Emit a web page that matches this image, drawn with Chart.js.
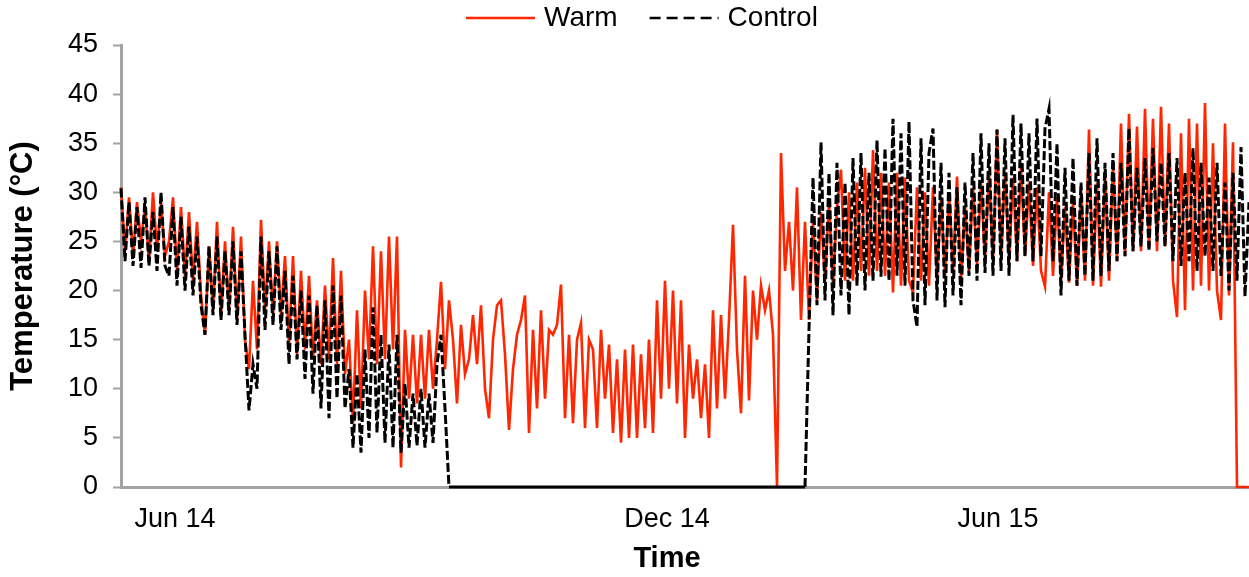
<!DOCTYPE html>
<html>
<head>
<meta charset="utf-8">
<title>Temperature - Warm x Control</title>
<script src="https://cdn.jsdelivr.net/npm/chart.js@4.4.1/dist/chart.umd.min.js"></script>
<style>
  html, body { margin: 0; padding: 0; background: #fff; }
  #grafico { display: block; }
</style>
</head>
<body>
<canvas id="grafico" width="1249" height="577"></canvas>
<script>
// one reading per sample index along the time axis (0 .. 282)
const sampleCount = 283;
const monthTickAt = [13.5, 136.5, 219.25];
const monthLabels = ["Jun 14", "Dec 14", "Jun 15"];
const yMax = 45;
const yStep = 5;

// Warm plot, °C
const warmTemp = [
  30.5, 24, 29.5, 23.5, 29, 25, 28.5, 23, 30, 24, 29, 23.5,
  25, 29.5, 22, 28.5, 21.5, 28, 21, 27, 19.5,
  15.5, 24.5, 18, 27, 17.5, 25, 18, 26.5, 17, 25.5, 15,
  12, 21, 14, 27.2, 18, 25, 17.5, 25, 17.5, 23.5,
  14.5, 23.5, 13.5, 22, 14, 21.5, 13, 19, 12.5, 20.5, 13, 23.3, 12.5, 22, 11.5,
  15, 6.5, 18, 8, 20,
  13, 24.5, 12.5, 24, 13, 25.5, 14, 25.5,
  2, 16, 9, 15.5, 8.5, 15.5, 9, 16, 10, 15, 20.9, 12,
  19, 15, 8.5, 16.5, 11.5, 13, 17.5, 12.5, 18.5, 10, 7, 15, 18.5, 19, 13.5,
  5.8, 12, 15.5, 17, 19.5, 5.5, 16, 8, 18, 9, 16, 15.5, 16.5, 20.6, 7,
  15.5, 6.5, 15, 16.7, 6, 15, 14, 6, 16, 9, 14.5, 5.5, 13, 4.5, 14,
  5, 14.5, 5, 13.5, 6, 15, 5.5,
  19, 9, 21, 10, 20, 8.5, 19, 5,
  14.5, 9, 13, 7, 12.5, 5,
  18, 8, 17.5, 9, 17, 26.7,
  14, 7.5, 21.5, 8.8, 20, 15, 20.5, 18, 20, 15.5,
  0, 34, 22, 27, 20, 30.5, 17, 27,
  17, 27, 19, 28, 21, 29, 20.5, 28.5, 32.3, 21, 30,
  21, 31, 22, 32.5, 21.5, 34.3, 22, 32, 21.5,
  31, 19.8, 32, 20.5, 31.5, 21, 19.8, 30.5, 21, 30, 20.5,
  30.5, 21, 29.5, 21.5, 30, 22, 31.6, 21, 28.5,
  22, 30.5, 22.5, 31, 23, 32, 23, 36.4, 23.5, 32, 23, 31.5,
  23, 32.5, 23.5, 31, 22.5, 30.5, 22, 20.4, 30, 21.5, 29.5,
  21, 28.5, 20.8, 29, 20.5, 30, 21, 36.4, 20.5, 31, 20.4, 32, 21, 33,
  23, 37, 23.5, 38, 24, 36.7, 24, 38.5, 24.4, 37.5, 24, 38.7, 24.5, 37,
  21, 17.3, 36, 18, 37.5, 20, 37, 20.5, 39.1, 20,
  35, 20, 17, 37, 19.5, 35.1, 0, 0, 0, 0
];

// Control plot, °C (logger offline between the two runs, recorded as 0)
const controlEarly = [
  30.4, 23, 29, 22.5, 28.5, 22.3, 29.5, 22.5, 28, 22, 30, 22.5,
  21.5, 28.5, 20.5, 27.5, 20, 26.5, 19.5, 25.5, 18.5,
  15.5, 24.5, 17.5, 25.5, 17, 24, 17.5, 25, 16.5, 24, 15.5,
  7.8, 12.5, 10, 25.5, 16, 24, 16.5, 24.5, 16, 22,
  12.5, 21.5, 13, 20, 11, 19.5, 9.5, 18.5, 8, 19, 7, 20.5, 9, 19.5, 8,
  12, 4, 11.5, 3.5, 14,
  5, 18.3, 5.5, 15.5, 4.5, 14.5, 4, 15.5,
  3.5, 10.5, 4, 9.5, 4.2, 10, 4, 9.5, 4.5, 12.5, 15.5, 8
];
const controlGapStart = 82;
const controlGapEnd = 171;
const controlLateStart = 172;
const controlLate = [
  16, 31.5, 18.5, 35.1, 19, 32, 17.5, 33, 19.5, 31, 17.5,
  33.5, 20.5, 34, 20, 32, 21, 35.3, 21.4, 34.5,
  21, 37.5, 21.5, 36, 20.5, 37.2, 19, 16.3, 35.5, 18.5, 34,
  36.5, 19, 33, 18.3, 32, 19.5, 30.5, 18.5, 31,
  21.5, 34, 21, 36, 21.8, 35, 21.5, 36.4, 22, 35.5, 21.5, 37.9,
  23, 37, 23.5, 36, 23, 37.5, 23.5, 36.5, 38.5, 23, 35,
  19.5, 32.5, 21, 33.5, 20.5, 31, 21.5, 34, 21, 35.5, 21.5, 33, 22, 34,
  23, 33, 23.5, 36.5, 24, 32.5, 24.5, 33.5, 24, 34.5, 25, 33, 24.5, 34,
  23, 33.5, 22.5, 32, 23, 34.5, 22, 33, 23.5, 31.5,
  22, 33, 21.5, 31, 20, 32, 21, 34.6, 19.4, 29
];

const warmPoints = warmTemp.map((v, i) => ({ x: i, y: v }));
const controlPoints = [
  ...controlEarly.map((v, i) => ({ x: i, y: v })),
  { x: controlGapStart, y: 0 },
  { x: controlGapEnd, y: 0 },
  ...controlLate.map((v, i) => ({ x: controlLateStart + i, y: v })),
];

const fonte = "'Liberation Sans', Arial, Helvetica, sans-serif";
const axisGray = "#a3a3a3";

// legend above the plot and the "Time" title under it
const textosExtras = {
  id: "textosExtras",
  afterDraw(chart) {
    const ctx = chart.ctx;
    let x = 466;
    const y = 18;
    ctx.save();
    ctx.font = "28px " + fonte;
    ctx.textBaseline = "middle";
    chart.data.datasets.forEach((ds) => {
      ctx.strokeStyle = ds.borderColor;
      ctx.lineWidth = 2.5;
      ctx.setLineDash(ds.borderDash ? [11, 6] : []);
      ctx.beginPath();
      ctx.moveTo(x, y);
      ctx.lineTo(x + 69, y);
      ctx.stroke();
      ctx.setLineDash([]);
      ctx.fillStyle = "#000";
      ctx.fillText(ds.label, x + 78, y);
      x += 78 + ctx.measureText(ds.label).width + 32;
    });
    ctx.font = "bold 29px " + fonte;
    ctx.textAlign = "center";
    ctx.fillText("Time", 667, 559);
    ctx.restore();
  },
};

// flat zero run of Control shows as one solid stroke
const zeroRun = (c) =>
  c.p0.parsed.y === 0 && c.p1.parsed.y === 0 ? [] : undefined;

new Chart(document.getElementById("grafico"), {
  type: "line",
  data: {
    datasets: [
      {
        label: "Warm",
        data: warmPoints,
        borderColor: "#ff2600",
        borderWidth: 2.6,
        pointRadius: 0,
        tension: 0,
        fill: false,
        clip: false,
        order: 2,
      },
      {
        label: "Control",
        data: controlPoints,
        borderColor: "#000000",
        borderWidth: 3,
        borderDash: [9, 3],
        segment: { borderDash: zeroRun },
        pointRadius: 0,
        tension: 0,
        fill: false,
        clip: false,
        order: 1,
      },
    ],
  },
  options: {
    responsive: false,
    animation: false,
    devicePixelRatio: 1,
    layout: { padding: { top: 45, right: 0, left: 0, bottom: 0 } },
    plugins: {
      legend: { display: false },
      tooltip: { enabled: false },
    },
    scales: {
      x: {
        type: "linear",
        min: 0,
        max: sampleCount - 1,
        afterBuildTicks: (scale) => {
          scale.ticks = monthTickAt.map((v) => ({ value: v }));
        },
        afterFit: (scale) => { scale.height = 90; },
        ticks: {
          autoSkip: false,
          maxRotation: 0,
          padding: 16,
          color: "#000",
          font: { family: fonte, size: 27 },
          callback: (v) => monthLabels[monthTickAt.indexOf(v)] || "",
        },
        grid: { display: false, drawTicks: false },
        border: { display: true, color: axisGray, width: 3 },
      },
      y: {
        min: 0,
        max: yMax,
        afterFit: (scale) => { scale.width = 121; },
        ticks: {
          stepSize: yStep,
          padding: 15,
          color: "#000",
          font: { family: fonte, size: 27 },
        },
        grid: {
          drawOnChartArea: false,
          drawTicks: true,
          tickLength: 8,
          tickWidth: 2,
          tickColor: axisGray,
        },
        border: { display: true, color: axisGray, width: 3 },
        title: {
          display: true,
          text: "Temperature (°C)",
          color: "#000",
          font: { family: fonte, size: 31, weight: "bold" },
          padding: { top: 5, bottom: 0 },
        },
      },
    },
  },
  plugins: [textosExtras],
});
</script>
</body>
</html>
